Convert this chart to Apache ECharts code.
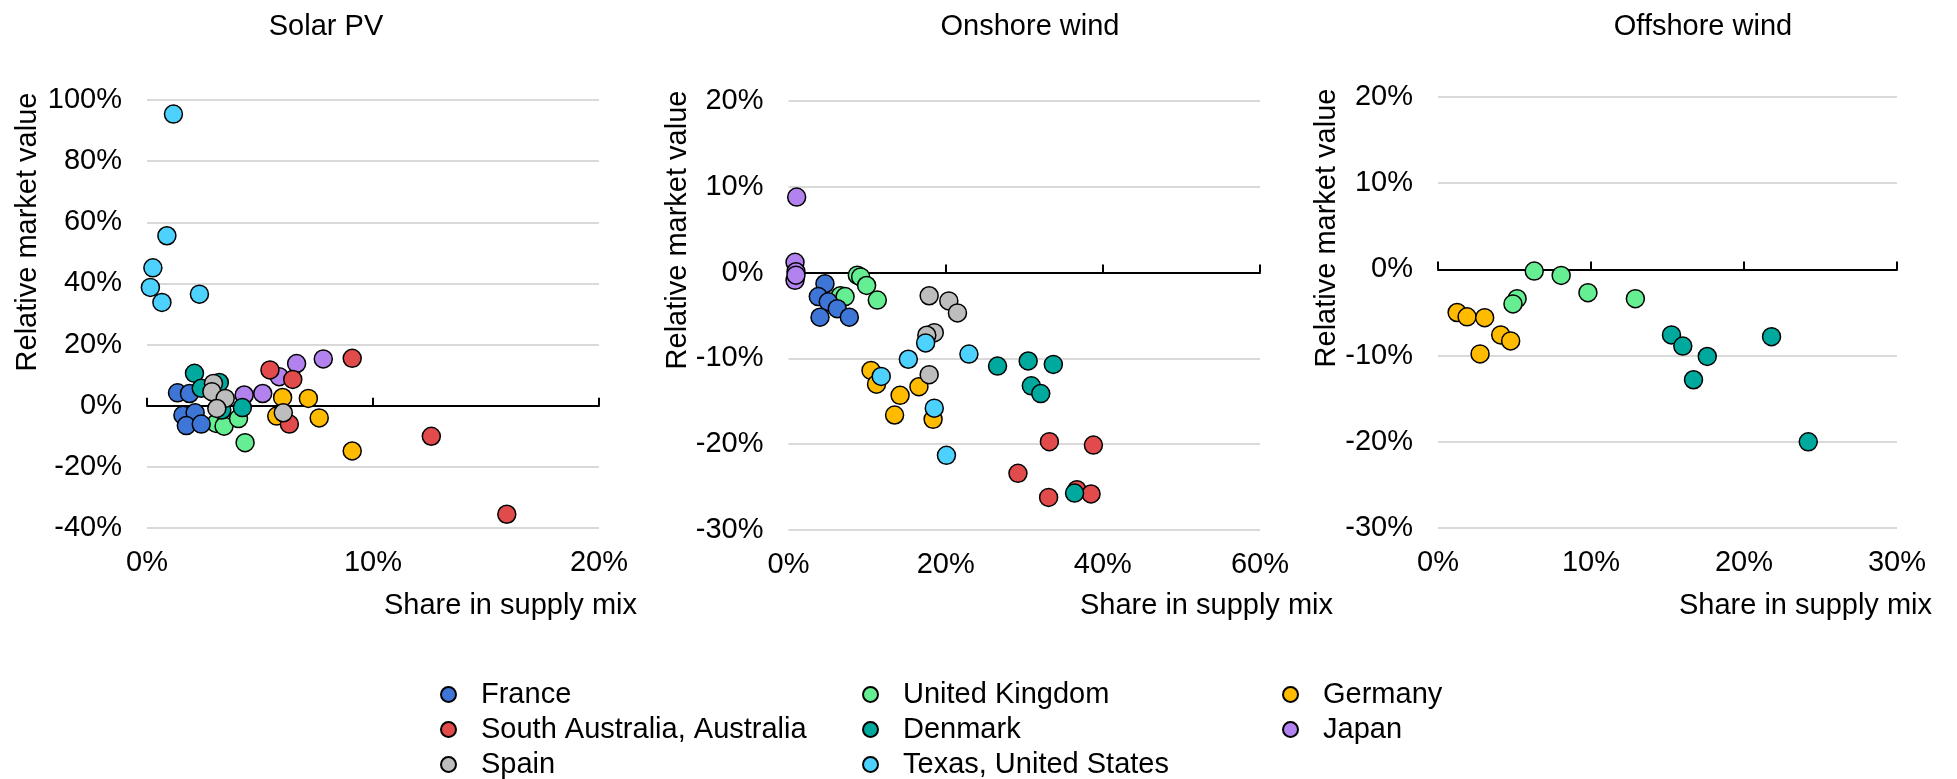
<!DOCTYPE html>
<html>
<head>
<meta charset="utf-8">
<script src="https://cdn.jsdelivr.net/npm/echarts@6/dist/echarts.min.js"></script>
<style>
  html, body { margin: 0; padding: 0; background: #fff; }
  #chart { width: 1957px; height: 779px; }
</style>
</head>
<body>
<div id="chart"></div>
<script>
// ---------- DATA (x = share in supply mix %, y = relative market value %) ----------
const countries = ['France', 'South Australia, Australia', 'Spain', 'United Kingdom', 'Denmark', 'Texas, United States', 'Germany', 'Japan'];
const countryColors = ['#3D76D6', '#E24B4B', '#BDBDBD', '#66EF92', '#00A99D', '#4DD2FF', '#FFBB00', '#B283EE'];
// drawing order (bottom to top) of the country series
const drawOrder = ['United Kingdom', 'France', 'Japan', 'Germany', 'South Australia, Australia', 'Denmark', 'Spain', 'Texas, United States'];

const panelTitles = ['Solar PV', 'Onshore wind', 'Offshore wind'];
const xAxisName = 'Share in supply mix';
const yAxisName = 'Relative market value';

// Solar PV
const solarFrance = [[1.35, 4.2], [1.88, 4.0], [1.59, -3.1], [2.13, -2.3], [1.74, -6.5], [2.40, -6.0]];
const solarSouthAustralia = [[5.44, 11.7], [6.45, 8.6], [9.08, 15.5], [6.30, -6.0], [12.58, -10.0], [15.92, -35.5]];
const solarSpain = [[2.94, 7.3], [2.87, 4.6], [3.46, 2.4], [3.09, -0.9], [6.03, -2.3]];
const solarUK = [[3.06, -5.8], [3.41, -6.7], [4.05, -4.2], [4.34, -12.1]];
const solarDenmark = [[2.10, 10.6], [2.40, 5.7], [3.20, 7.6], [3.31, -1.4], [4.22, -0.6]];
const solarTexas = [[1.17, 95.4], [0.88, 55.6], [0.26, 45.1], [0.15, 38.7], [0.66, 33.8], [2.32, 36.5]];
const solarGermany = [[6.00, 2.7], [7.14, 2.4], [7.62, -4.0], [9.08, -14.8], [5.74, -3.4]];
const solarJapan = [[4.30, 3.5], [5.12, 4.0], [5.85, 9.5], [6.62, 13.8], [7.80, 15.3]];

// Onshore wind
const onshoreFrance = [[4.64, -1.3], [3.79, -2.8], [5.06, -3.4], [6.21, -4.2], [4.01, -5.2], [7.74, -5.2]];
const onshoreSouthAustralia = [[33.2, -19.7], [38.8, -20.1], [29.2, -23.4], [33.1, -26.2], [36.7, -25.3], [38.5, -25.8]];
const onshoreSpain = [[17.9, -2.7], [20.4, -3.3], [21.5, -4.7], [18.55, -7.0], [17.6, -7.3], [17.9, -11.9]];
const onshoreUK = [[6.6, -2.7], [7.2, -2.8], [8.76, -0.3], [9.18, -0.5], [9.94, -1.5], [11.3, -3.2]];
const onshoreDenmark = [[26.6, -10.9], [30.5, -10.3], [33.7, -10.7], [30.9, -13.2], [32.1, -14.1], [36.4, -25.7]];
const onshoreTexas = [[17.45, -8.2], [15.25, -10.1], [22.96, -9.5], [18.55, -15.8], [20.1, -21.3], [11.8, -12.1]];
const onshoreGermany = [[10.5, -11.4], [11.2, -13.0], [14.2, -14.3], [13.5, -16.6], [16.6, -13.3], [18.4, -17.1]];
const onshoreJapan = [[1.04, 8.8], [0.83, 1.2], [0.95, 0.1], [0.83, -0.9], [0.95, -0.3]];

// Offshore wind
const offshoreUK = [[6.29, -0.2], [8.05, -0.7], [9.8, -2.7], [12.9, -3.4], [5.17, -3.4], [4.9, -4.0]];
const offshoreDenmark = [[15.26, -7.6], [16.0, -8.9], [17.6, -10.1], [16.7, -12.8], [21.8, -7.8], [24.2, -20.0]];
const offshoreGermany = [[1.25, -5.0], [1.90, -5.5], [3.05, -5.6], [4.10, -7.6], [4.75, -8.3], [2.75, -9.8]];

// Axis ranges / ticks
const xMins = [0, 0, 0];
const xMaxs = [20, 60, 30];
const xSteps = [10, 20, 10];
const yMins = [-40, -30, -30];
const yMaxs = [100, 20, 20];
const ySteps = [20, 10, 10];

// ---------- LAYOUT ----------
const FONT = '"Liberation Sans", Arial, Helvetica, sans-serif';
const FS = 29;
const grids = [
  { left: 147, top: 100, width: 452, height: 428 },
  { left: 788.5, top: 101, width: 471.5, height: 429 },
  { left: 1438, top: 97, width: 459, height: 431 }
];
const titleCenters = [321, 1025, 1698];
const yNamePos = [[28, 232], [678, 230], [1327, 228]];
const xNameRight = [637, 1333, 1932];

const panelData = [
  { 'France': solarFrance, 'South Australia, Australia': solarSouthAustralia, 'Spain': solarSpain, 'United Kingdom': solarUK, 'Denmark': solarDenmark, 'Texas, United States': solarTexas, 'Germany': solarGermany, 'Japan': solarJapan },
  { 'France': onshoreFrance, 'South Australia, Australia': onshoreSouthAustralia, 'Spain': onshoreSpain, 'United Kingdom': onshoreUK, 'Denmark': onshoreDenmark, 'Texas, United States': onshoreTexas, 'Germany': onshoreGermany, 'Japan': onshoreJapan },
  { 'United Kingdom': offshoreUK, 'Denmark': offshoreDenmark, 'Germany': offshoreGermany }
];

const xAxes = [], yAxes = [], series = [], graphics = [], titles = [];
for (let i = 0; i < 3; i++) {
  // label axis (bottom)
  xAxes.push({
    gridIndex: i, type: 'value', min: xMins[i], max: xMaxs[i], interval: xSteps[i],
    position: 'bottom',
    axisLine: { show: false, onZero: false }, axisTick: { show: false }, splitLine: { show: false },
    axisLabel: { formatter: '{value}%', fontSize: FS, fontFamily: FONT, color: '#000', margin: 20 }
  });
  // zero line axis with ticks
  xAxes.push({
    gridIndex: i, type: 'value', min: xMins[i], max: xMaxs[i], interval: xSteps[i],
    axisLine: { show: true, onZero: true, lineStyle: { color: '#000', width: 2 } },
    axisTick: { show: true, length: 8, lineStyle: { color: '#000', width: 2 } },
    axisLabel: { show: false }, splitLine: { show: false }
  });
  yAxes.push({
    gridIndex: i, type: 'value', min: yMins[i], max: yMaxs[i], interval: ySteps[i],
    axisLine: { show: false }, axisTick: { show: false },
    splitLine: { show: true, lineStyle: { color: '#D9D9D9', width: 2 } },
    axisLabel: { formatter: '{value}%', fontSize: FS, fontFamily: FONT, color: '#000', margin: 25 }
  });
  titles.push({
    text: panelTitles[i], left: titleCenters[i], top: 7, textAlign: 'center',
    textStyle: { fontSize: FS, fontWeight: 'normal', fontFamily: FONT, color: '#000' }
  });
  graphics.push({
    type: 'text', x: yNamePos[i][0], y: yNamePos[i][1], rotation: Math.PI / 2,
    style: { text: yAxisName, fontSize: FS, fontFamily: FONT, fill: '#000', align: 'center', verticalAlign: 'middle' }
  });
  graphics.push({
    type: 'text', x: xNameRight[i], y: 606,
    style: { text: xAxisName, fontSize: FS, fontFamily: FONT, fill: '#000', align: 'right', verticalAlign: 'middle' }
  });
  drawOrder.forEach((c) => {
    const d = panelData[i][c];
    if (!d) return;
    const ci = countries.indexOf(c);
    series.push({
      name: c, type: 'scatter', xAxisIndex: i * 2, yAxisIndex: i,
      data: d, symbol: 'circle', symbolSize: 18,
      itemStyle: { color: countryColors[ci], borderColor: '#000', borderWidth: 1.5, opacity: 1 },
      emphasis: { disabled: true }
    });
  });
}

const legendBase = {
  orient: 'vertical', top: 680, padding: 0, itemGap: 6, itemWidth: 15, itemHeight: 15, icon: 'circle',
  selectedMode: false,
  textStyle: { fontSize: FS, fontFamily: FONT, color: '#000', lineHeight: 29, padding: [0, 0, 0, 20] }
};

const option = {
  animation: false,
  backgroundColor: '#fff',
  title: titles,
  grid: grids,
  xAxis: xAxes,
  yAxis: yAxes,
  legend: [
    Object.assign({}, legendBase, { left: 440, data: countries.slice(0, 3) }),
    Object.assign({}, legendBase, { left: 862, data: countries.slice(3, 6) }),
    Object.assign({}, legendBase, { left: 1282, data: countries.slice(6, 8) })
  ],
  graphic: graphics,
  series: series
};

const chart = echarts.init(document.getElementById('chart'), null, { renderer: 'canvas' });
chart.setOption(option);
</script>
</body>
</html>
